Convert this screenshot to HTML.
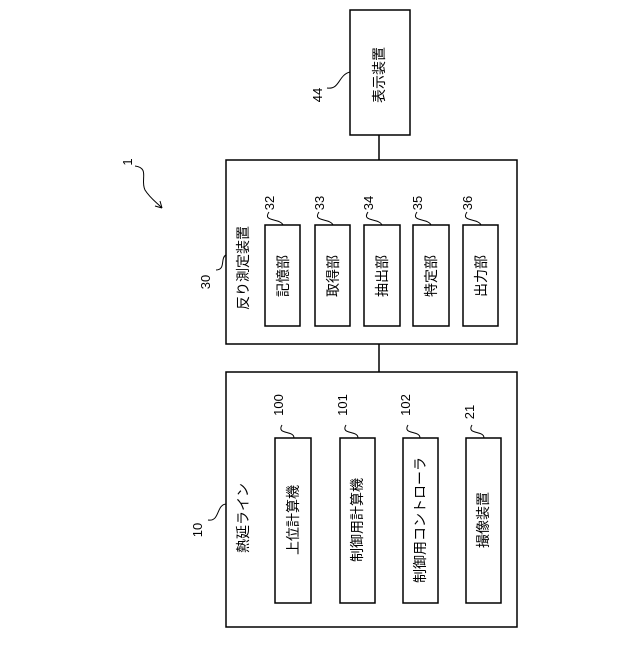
<!DOCTYPE html>
<html><head><meta charset="utf-8"><style>
html,body{margin:0;padding:0;background:#fff;}
svg text{font-family:"Liberation Sans","Noto Sans CJK JP",sans-serif;fill:#000;}
</style></head><body>
<svg width="640" height="640" viewBox="0 0 640 640" xmlns="http://www.w3.org/2000/svg">
<g fill="none" stroke="#000" stroke-width="1.5">
<rect x="350" y="10" width="60" height="125"/>
<line x1="379" y1="135" x2="379" y2="160"/>
<rect x="226" y="160" width="291" height="184"/>
<line x1="379" y1="344" x2="379" y2="372"/>
<rect x="226" y="372" width="291" height="255"/>
<rect x="265" y="225" width="35" height="101"/>
<rect x="315" y="225" width="35" height="101"/>
<rect x="364" y="225" width="36" height="101"/>
<rect x="413" y="225" width="36" height="101"/>
<rect x="463" y="225" width="35" height="101"/>
<rect x="275" y="438" width="36" height="165"/>
<rect x="340" y="438" width="35" height="165"/>
<rect x="403" y="438" width="35" height="165"/>
<rect x="466" y="438" width="35" height="165"/>
</g>
<g fill="none" stroke="#000" stroke-width="1">
<path d="M327,88 C340,90 338,75 350,72"/>
<path d="M216,270 C226,270 220,258 226,255"/>
<path d="M208,520 C220,522 216,505 226,504"/>
<path d="M269,212 C262,222 280,218 283,225"/>
<path d="M319,212 C312,222 330,218 333,225"/>
<path d="M368,212 C361,222 379,218 382,225"/>
<path d="M417,212 C410,222 428,218 431,225"/>
<path d="M467,212 C460,222 478,218 481,225"/>
<path d="M282,425 C276,435 294,430 294,438"/>
<path d="M346,425 C340,435 358,430 358,438"/>
<path d="M408,425 C402,435 420,430 420,438"/>
<path d="M472,425 C466,435 484,430 484,438"/>
<path d="M135,166 C150,168 140,180 145,190 C150,198 156,202 162,208"/>
<path d="M162,208 L155,206 M162,208 L160,201"/>
</g>
<g font-size="14" text-anchor="middle">
<text transform="translate(384,75) rotate(-90)">表示装置</text>
<text transform="translate(248,268) rotate(-90)">反り測定装置</text>
<text transform="translate(248,518) rotate(-90)">熱延ライン</text>
<text transform="translate(288,276) rotate(-90)">記憶部</text>
<text transform="translate(338,276) rotate(-90)">取得部</text>
<text transform="translate(387,276) rotate(-90)">抽出部</text>
<text transform="translate(436,276) rotate(-90)">特定部</text>
<text transform="translate(486,276) rotate(-90)">出力部</text>
<text transform="translate(298,520) rotate(-90)">上位計算機</text>
<text transform="translate(362,520) rotate(-90)">制御用計算機</text>
<text transform="translate(425,520) rotate(-90)">制御用コントローラ</text>
<text transform="translate(488,520) rotate(-90)">撮像装置</text>
</g>
<g font-size="13" text-anchor="middle">
<text transform="translate(322,95) rotate(-90)">44</text>
<text transform="translate(132,162) rotate(-90)">1</text>
<text transform="translate(210,282) rotate(-90)">30</text>
<text transform="translate(202,530) rotate(-90)">10</text>
<text transform="translate(274,203) rotate(-90)">32</text>
<text transform="translate(324,203) rotate(-90)">33</text>
<text transform="translate(373,203) rotate(-90)">34</text>
<text transform="translate(422,203) rotate(-90)">35</text>
<text transform="translate(472,203) rotate(-90)">36</text>
<text transform="translate(283,405) rotate(-90)">100</text>
<text transform="translate(347,405) rotate(-90)">101</text>
<text transform="translate(410,405) rotate(-90)">102</text>
<text transform="translate(474,412) rotate(-90)">21</text>
</g>
</svg>
</body></html>
